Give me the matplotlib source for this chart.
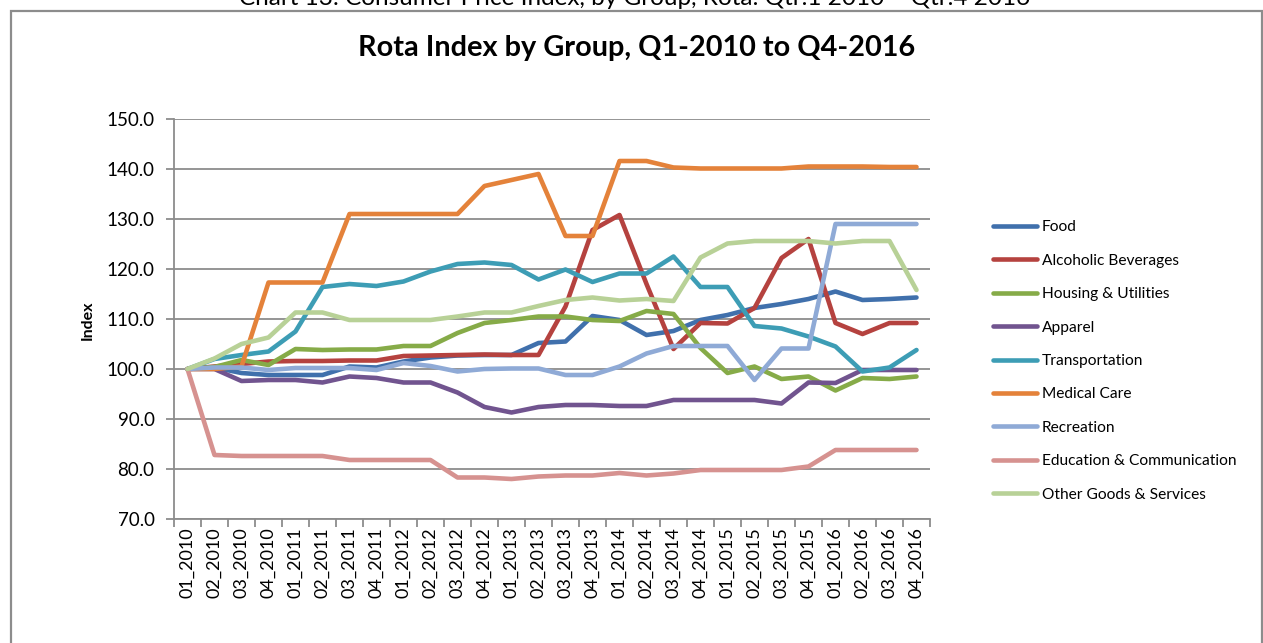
import matplotlib
matplotlib.use("Agg")
import matplotlib.pyplot as plt
from matplotlib.patches import Rectangle
from matplotlib.ticker import FixedLocator, NullFormatter

plt.rcParams['font.family'] = ['Lato', 'DejaVu Sans']

quarters = ["01_2010", "02_2010", "03_2010", "04_2010",
            "01_2011", "02_2011", "03_2011", "04_2011",
            "01_2012", "02_2012", "03_2012", "04_2012",
            "01_2013", "02_2013", "03_2013", "04_2013",
            "01_2014", "02_2014", "03_2014", "04_2014",
            "01_2015", "02_2015", "03_2015", "04_2015",
            "01_2016", "02_2016", "03_2016", "04_2016"]

food = [100.0, 100.3, 99.2, 98.8, 98.8, 98.8, 100.5, 100.3, 101.5, 102.3, 102.7, 102.8,
        102.8, 105.2, 105.5, 110.6, 109.8, 106.8, 107.6, 109.8, 110.8, 112.2, 113.0, 114.0,
        115.5, 113.8, 114.0, 114.3]
alcoholic = [100.0, 100.5, 101.0, 101.5, 101.6, 101.6, 101.7, 101.7, 102.6, 102.7, 102.8, 102.9,
             102.8, 102.8, 112.5, 127.8, 130.8, 117.0, 104.0, 109.2, 109.1, 112.2, 122.2, 126.0,
             109.2, 107.0, 109.2, 109.2]
housing = [100.0, 100.4, 101.8, 100.8, 104.0, 103.8, 103.9, 103.9, 104.6, 104.6, 107.2, 109.2,
           109.8, 110.5, 110.5, 109.8, 109.6, 111.6, 111.0, 104.2, 99.2, 100.5, 98.0, 98.5,
           95.7, 98.2, 98.0, 98.5]
apparel = [100.0, 100.0, 97.6, 97.8, 97.8, 97.3, 98.5, 98.2, 97.3, 97.3, 95.3, 92.4,
           91.3, 92.4, 92.8, 92.8, 92.6, 92.6, 93.8, 93.8, 93.8, 93.8, 93.1, 97.3,
           97.2, 99.8, 99.8, 99.8]
transport = [100.0, 102.0, 102.8, 103.5, 107.5, 116.4, 117.0, 116.6, 117.5, 119.5, 121.0, 121.3,
             120.8, 117.9, 119.9, 117.4, 119.1, 119.1, 122.5, 116.4, 116.4, 108.6, 108.1, 106.5,
             104.5, 99.5, 100.3, 103.8]
medical = [100.0, 100.0, 100.5, 117.3, 117.3, 117.3, 131.0, 131.0, 131.0, 131.0, 131.0, 136.6,
           137.8, 139.0, 126.6, 126.6, 141.6, 141.6, 140.3, 140.1, 140.1, 140.1, 140.1, 140.5,
           140.5, 140.5, 140.4, 140.4]
recreation = [100.0, 100.3, 100.3, 99.8, 100.2, 100.2, 100.2, 99.8, 101.2, 100.6, 99.5, 100.0,
              100.1, 100.1, 98.8, 98.8, 100.5, 103.1, 104.6, 104.6, 104.6, 97.8, 104.1, 104.1,
              129.0, 129.0, 129.0, 129.0]
education = [100.0, 82.8, 82.6, 82.6, 82.6, 82.6, 81.8, 81.8, 81.8, 81.8, 78.3, 78.3,
             78.0, 78.5, 78.7, 78.7, 79.2, 78.7, 79.1, 79.8, 79.8, 79.8, 79.8, 80.5,
             83.8, 83.8, 83.8, 83.8]
other = [100.0, 102.1, 105.0, 106.3, 111.3, 111.3, 109.8, 109.8, 109.8, 109.8, 110.5, 111.3,
         111.3, 112.6, 113.8, 114.3, 113.7, 114.0, 113.6, 122.3, 125.1, 125.6, 125.6, 125.6,
         125.1, 125.6, 125.6, 115.8]

series_names = ["Food", "Alcoholic Beverages", "Housing & Utilities", "Apparel",
                "Transportation", "Medical Care", "Recreation",
                "Education & Communication", "Other Goods & Services"]
series_values = [food, alcoholic, housing, apparel, transport, medical,
                 recreation, education, other]
colors = ["#4070AC", "#B5423F", "#86AB48", "#71548F", "#3D9DB5", "#E4823A",
          "#8FAAD6", "#D69290", "#B8D197"]

W, H = 1263, 643
fig = plt.figure(figsize=(W / 100, H / 100), dpi=100)

# outer frame
fig.patches.append(Rectangle((11 / W, -0.05), (1262 - 11) / W, 1 - 11 / H + 0.05,
                             transform=fig.transFigure, fill=False,
                             edgecolor="#8C8C8C", linewidth=1.6))

# caption cut off at the very top (as in the reference)
fig.text(635 / W, 1 - 5 / H,
         "Chart 13: Consumer Price Index, by Group, Rota: Qtr.1 2010 \u2013 Qtr.4 2016",
         ha="center", va="baseline", fontsize=17.5, color="black")

fig.text(637 / W, 1 - 48 / H, "Rota Index by Group, Q1-2010 to Q4-2016",
         ha="center", va="center", fontsize=20.8, fontweight="bold")

left, right, top, bottom = 174, 930, 119, 519
ax = fig.add_axes([left / W, 1 - bottom / H, (right - left) / W, (bottom - top) / H])

x = list(range(len(quarters)))
for name, vals, c in zip(series_names, series_values, colors):
    ax.plot(x, vals, color=c, linewidth=3.3, label=name,
            solid_joinstyle="round", solid_capstyle="round")

ax.set_xlim(-0.5, len(quarters) - 0.5)
ax.set_ylim(70, 150)
yt = [70, 80, 90, 100, 110, 120, 130, 140, 150]
ax.set_yticks(yt)
ax.set_yticklabels([f"{v:.1f}" for v in yt], fontsize=13.5)
ax.set_xticks(x)
ax.set_xticklabels(quarters, rotation=90, fontsize=13)
ax.xaxis.set_minor_locator(FixedLocator([i - 0.5 for i in range(len(quarters) + 1)]))
ax.xaxis.set_minor_formatter(NullFormatter())
ax.tick_params(axis="x", which="major", length=0, pad=6)
ax.tick_params(axis="x", which="minor", length=6, width=1.3, color="#8C8C8C")
ax.tick_params(axis="y", which="major", length=6, width=1.3, color="#8C8C8C", pad=8)

ax.grid(axis="y", color="#8C8C8C", linewidth=1.3)
ax.set_axisbelow(True)
for s in ["top", "right"]:
    ax.spines[s].set_visible(False)
for s in ["left", "bottom"]:
    ax.spines[s].set_color("#8C8C8C")
    ax.spines[s].set_linewidth(1.3)

fig.text(88 / W, 1 - 320 / H, "Index", rotation=90, ha="center", va="center",
         fontsize=11.5, fontweight="bold")

fig.legend(loc="center left", bbox_to_anchor=(993 / W, 1 - 361 / H),
           frameon=False, fontsize=11.2, handlelength=2.8, handletextpad=0.35,
           labelspacing=1.25, borderpad=0, borderaxespad=0)

fig.savefig("out.png", dpi=100)
